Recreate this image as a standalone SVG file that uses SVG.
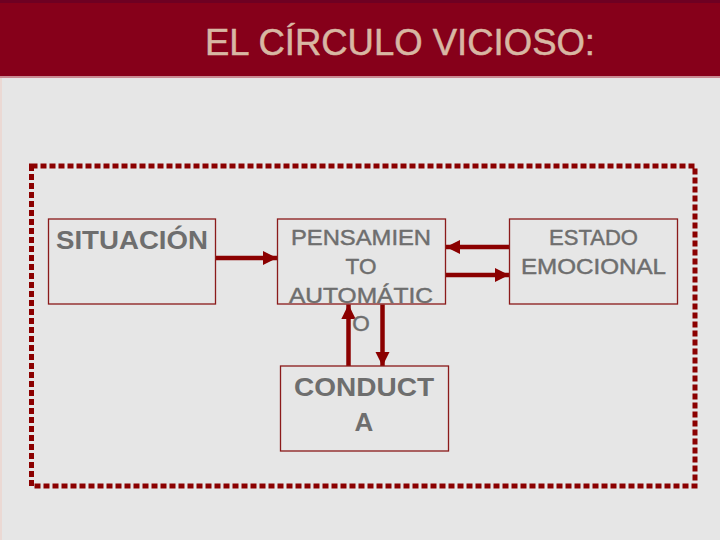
<svg xmlns="http://www.w3.org/2000/svg" width="720" height="540" viewBox="0 0 720 540">
<defs>
<style>
.box{fill:#E6E6E6;stroke:#8B1A1A;stroke-width:1.3}
.t{font-family:"Liberation Sans",Arial,sans-serif;fill:#6E6E6E;text-anchor:middle}
.r{stroke:#6E6E6E;stroke-width:0.45}
.b{font-weight:bold}
.c{stroke:#8B0000;stroke-width:4.5;fill:none}
</style>
<marker id="ah" viewBox="0 0 10 10" refX="10" refY="5" markerWidth="3.2" markerHeight="3.4" markerUnits="strokeWidth" orient="auto">
<path d="M0,0 L10,5 L0,10 Z" fill="#8B0000"/>
</marker>
</defs>
<rect x="0" y="0" width="720" height="540" fill="#E6E6E6"/>
<rect x="0" y="0" width="2" height="540" fill="#EBD9D4"/>
<g id="header">
<rect x="0" y="0" width="720" height="76" fill="#86001A"/>
<rect x="0" y="0" width="720" height="3" fill="#6E0022"/>
<rect x="0" y="76" width="720" height="2" fill="#C98A93"/>
<text x="400" y="55" font-family="'Liberation Sans',Arial,sans-serif" font-size="36" fill="#D8B7A3" stroke="#D8B7A3" stroke-width="0.5" text-anchor="middle" textLength="390" lengthAdjust="spacingAndGlyphs">EL CÍRCULO VICIOSO:</text>
</g>
<g id="frame">
<rect x="31.5" y="166" width="663.5" height="320" fill="none" stroke="#8B0000" stroke-width="5" stroke-dasharray="6 3"/>
</g>
<g id="connectors">
<line class="c" x1="215" y1="258" x2="277" y2="258" marker-end="url(#ah)"/>
<line class="c" x1="509" y1="247" x2="446" y2="247" marker-end="url(#ah)"/>
<line class="c" x1="446" y1="275" x2="509" y2="275" marker-end="url(#ah)"/>
<line class="c" x1="348.5" y1="366" x2="348.5" y2="304.5" marker-end="url(#ah)"/>
<line class="c" x1="382.5" y1="304.5" x2="382.5" y2="366" marker-end="url(#ah)"/>
</g>
<g id="situacion">
<rect class="box" x="48.5" y="219" width="167" height="85"/>
<text class="t b" x="132" y="249" font-size="26" textLength="152" lengthAdjust="spacingAndGlyphs">SITUACIÓN</text>
</g>
<g id="pensamiento">
<rect class="box" x="277.5" y="219" width="168" height="85"/>
<text class="t r" x="361" y="245" font-size="22.5" textLength="140" lengthAdjust="spacingAndGlyphs">PENSAMIEN</text>
<text class="t r" x="361" y="274" font-size="22.5">TO</text>
<text class="t r" x="361" y="302.5" font-size="22.5" textLength="144" lengthAdjust="spacingAndGlyphs">AUTOMÁTIC</text>
<text class="t r" x="361" y="331" font-size="22.5">O</text>
</g>
<g id="conducta">
<rect class="box" x="280.5" y="366" width="168" height="85"/>
<text class="t b" x="364" y="396" font-size="26" textLength="140" lengthAdjust="spacingAndGlyphs">CONDUCT</text>
<text class="t b" x="364" y="431" font-size="26">A</text>
</g>
<g id="estado">
<rect class="box" x="509.5" y="219" width="168" height="85"/>
<text class="t r" x="593.5" y="245" font-size="22">ESTADO</text>
<text class="t r" x="593.5" y="274" font-size="22" textLength="145" lengthAdjust="spacingAndGlyphs">EMOCIONAL</text>
</g>
</svg>
